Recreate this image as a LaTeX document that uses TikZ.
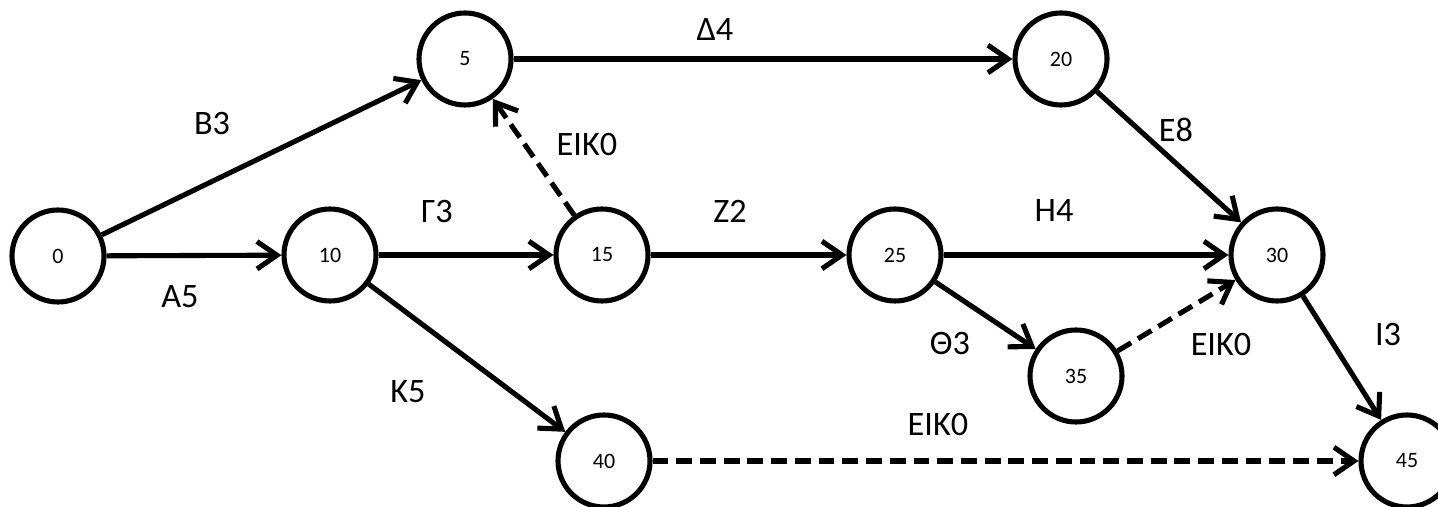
\documentclass[tikz,border=0pt]{standalone}
\usepackage{fontspec}
\setmainfont{Carlito}
\usetikzlibrary{arrows.meta}

\begin{document}
\begin{tikzpicture}[
        event/.style = {draw, circle, line width = 2.9pt, minimum size = 1.84cm, inner sep = 0pt,
                        font = \fontsize{12.5}{14}\selectfont},
        act/.style   = {line width = 2.9pt, -{Straight Barb[length = 0.4cm, width = 0.55cm]}},
        dummy/.style = {act, dash pattern = on 9pt off 4.5pt},
        lbl/.style   = {font = \fontsize{19.5}{22}\selectfont}
    ]
        \useasboundingbox (0, 0) rectangle (28.76, 10.14);
        % events
        \node[event] (e0)  at (1.16, 5.02)  {0};
        \node[event] (e5)  at (9.30, 8.96)  {5};
        \node[event] (e10) at (6.60, 5.04)  {10};
        \node[event] (e15) at (12.04, 5.04) {15};
        \node[event] (e20) at (21.22, 8.96) {20};
        \node[event] (e25) at (17.90, 5.04) {25};
        \node[event] (e30) at (25.54, 5.04) {30};
        \node[event] (e35) at (21.52, 2.62) {35};
        \node[event] (e40) at (12.08, 0.92) {40};
        \node[event] (e45) at (28.14, 0.92) {45};
        % activities
        \draw[act]   (e0)  -- (e5);
        \draw[act]   (e0)  -- (e10);
        \draw[act]   (e10) -- (e15);
        \draw[dummy] (e15) -- (e5);
        \draw[act]   (e5)  -- (e20);
        \draw[act]   (e15) -- (e25);
        \draw[act]   (e25) -- (e30);
        \draw[act]   (e20) -- (e30);
        \draw[act]   (e25) -- (e35);
        \draw[dummy] (e35) -- (e30);
        \draw[act]   (e10) -- (e40);
        \draw[dummy] (e40) -- (e45);
        \draw[act]   (e30) -- (e45);
        % labels
        \node[lbl] (lB) at (4.24, 7.66)  {Β3};
        \node[lbl] (lA) at (3.60, 4.20)  {Α5};
        \node[lbl] (lG) at (8.74, 5.90)  {Γ3};
        \node[lbl] (lD) at (14.30, 9.54) {Δ4};
        \node[lbl] (lD1) at (11.74, 7.24) {ΕΙΚ0};
        \node[lbl] (lZ) at (14.60, 5.92) {Ζ2};
        \node[lbl] (lH) at (21.08, 5.92) {Η4};
        \node[lbl] (lE) at (23.52, 7.54) {Ε8};
        \node[lbl] (lD2) at (24.42, 3.24) {ΕΙΚ0};
        \node[lbl] (lI) at (27.76, 3.44) {Ι3};
        \node[lbl] (lT) at (19.00, 3.26) {Θ3};
        \node[lbl] (lD3) at (18.76, 1.64) {ΕΙΚ0};
        \node[lbl] (lK) at (8.16, 2.30)  {Κ5};
    \end{tikzpicture}
\end{document}
